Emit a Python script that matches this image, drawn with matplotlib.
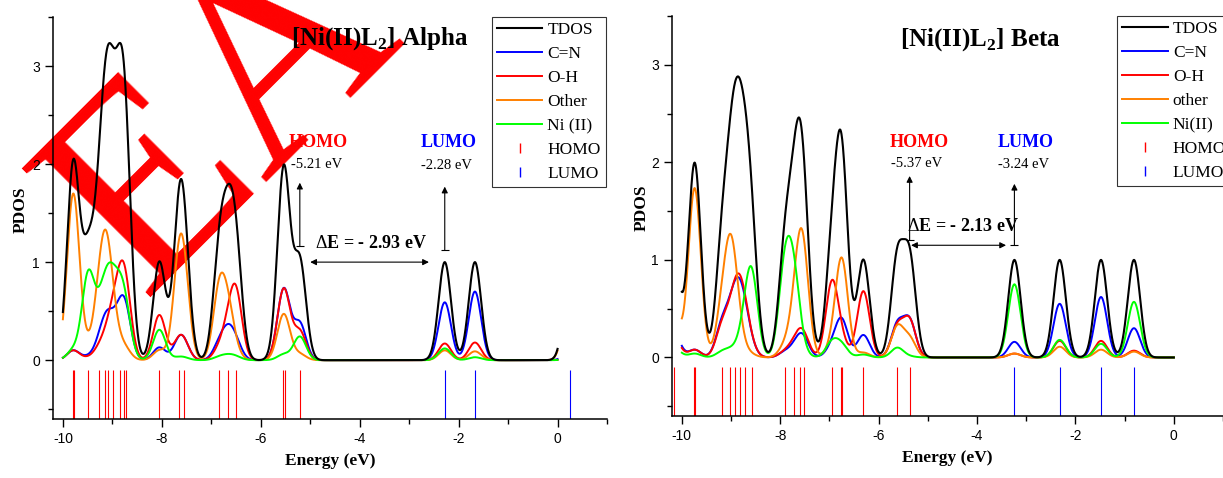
import numpy as np
import matplotlib
matplotlib.use('Agg')
import matplotlib.pyplot as plt
from matplotlib.lines import Line2D
from matplotlib.ticker import MultipleLocator

plt.rcParams['mathtext.fontset'] = 'custom'
plt.rcParams['mathtext.rm'] = 'Liberation Serif'
plt.rcParams['mathtext.bf'] = 'Liberation Serif:bold'
plt.rcParams['axes.unicode_minus'] = False

SERIF = 'Liberation Serif'
SANS = 'Liberation Sans'
SIGMA = 0.125   # gaussian broadening (eV)

# ---- alpha spin: orbital energies (eV) and fragment contributions per orbital
alpha_occ = [-9.80, -9.78, -9.49, -9.26, -9.14, -9.08, -8.98, -8.85, -8.77, -8.72,
             -8.05, -7.66, -7.56, -6.84, -6.66, -6.50, -5.56, -5.51, -5.21]
alpha_virt = [-2.28, -1.67, 0.26]
alpha_cn = [.05, .05, .03, .12, .18, .18, .12, .20, .22, .25,
            .13, .14, .14, .15, .25, .15, .37, .37, .37, .59, .70, .10]
alpha_oh = [.05, .05, .02, .10, .05, .10, .30, .30, .35, .35,
            .46, .14, .14, .10, .25, .65, .37, .37, .29, .17, .18, .03]
alpha_other = [.85, .85, .10, .50, .57, .42, .15, .05, .05, .05,
               .10, .70, .70, .68, .45, .05, .24, .24, .06, .10, .09, .85]
alpha_ni = [.05, .05, .85, .30, .25, .33, .35, .30, .25, .20,
            .31, .02, .02, .03, .04, .03, .03, .03, .24, .12, .03, .02]

# ---- beta spin
beta_occ = [-10.16, -9.75, -9.73, -9.19, -9.02, -8.92, -8.82, -8.71, -8.58,
            -7.91, -7.73, -7.60, -7.52, -6.95, -6.76, -6.74, -6.31, -5.62, -5.37]
beta_virt = [-3.24, -2.32, -1.48, -0.81]
beta_cn = [.25, .04, .04, .30, .20, .30, .35, .25, .05,
           .05, .05, .12, .12, .10, .20, .18, .23, .33, .37, .16, .55, .62, .30]
beta_oh = [.20, .04, .04, .28, .18, .30, .40, .25, .05,
           .05, .08, .13, .15, .75, .10, .05, .68, .31, .37, .04, .17, .17, .07]
beta_other = [.45, .87, .87, .40, .84, .35, .05, .03, .02,
              .10, .20, .70, .60, .10, .50, .50, .05, .31, .19, .04, .11, .08, .06]
beta_ni = [.10, .02, .02, .05, .05, .02, .05, .20, .80,
           .85, .75, .05, .02, .15, .07, .05, .03, .10, .01, .75, .18, .14, .57]

energy = np.linspace(-10, 0, 2001)


def broaden(levels, weights):
    levels = np.asarray(levels)[:, None]
    weights = np.asarray(weights)[:, None]
    return (weights * np.exp(-(energy[None, :] - levels) ** 2 / (2 * SIGMA ** 2))).sum(axis=0)


def panel(ax, occ, virt, cn, oh, other, ni, title, labels, homo, lumo, gap,
          txt, leg_x, other_name, ni_name, ylab_x):
    levels = occ + virt
    ax.patch.set_alpha(0)
    ax.plot(energy, broaden(levels, cn), color='#0000FF', lw=1.4)
    ax.plot(energy, broaden(levels, oh), color='#FF0000', lw=1.4)
    ax.plot(energy, broaden(levels, other), color='#FF8000', lw=1.4)
    ax.plot(energy, broaden(levels, ni), color='#00FF00', lw=1.4)
    ax.plot(energy, broaden(levels, np.ones(len(levels))), color='black', lw=1.5)
    ax.vlines(occ, -0.6, -0.1, color='red', lw=0.8)
    ax.vlines(virt, -0.6, -0.1, color='blue', lw=0.8)

    ax.set_xlim(-10.2, 1.0)
    ax.set_ylim(-0.6, 3.5)
    ax.xaxis.set_major_locator(MultipleLocator(2))
    ax.xaxis.set_minor_locator(MultipleLocator(1))
    ax.yaxis.set_minor_locator(MultipleLocator(0.5))
    ax.set_yticks([0, 1, 2, 3])
    ax.tick_params(which='major', direction='out', length=6, width=1, labelsize=10)
    ax.tick_params(which='minor', direction='out', length=3.5, width=1)
    for lab in ax.get_xticklabels() + ax.get_yticklabels():
        lab.set_fontfamily(SANS)
    for s in ['top', 'right']:
        ax.spines[s].set_visible(False)
    for s in ['left', 'bottom']:
        ax.spines[s].set_linewidth(1.1)

    ax.set_xlabel('Energy (eV)', fontsize=12.5, fontweight='bold', family=SERIF)
    ax.set_ylabel('PDOS', fontsize=12.5, fontweight='bold', family=SERIF)
    ax.xaxis.set_label_coords(0.5, -0.085)
    ax.yaxis.set_label_coords(ylab_x, 0.52)

    ax.text(txt['title'][0], txt['title'][1], title, transform=ax.transAxes, ha='center',
            va='baseline', fontsize=18, fontweight='bold', family=SERIF)

    # HOMO / LUMO labels and arrows
    ax.text(txt['homo'][0], txt['homo'][1], 'HOMO', color='red', ha='center', va='baseline',
            fontsize=13, fontweight='bold', family=SERIF)
    ax.text(txt['homo'][0] - 0.04, txt['homo'][1] - 0.21, labels[0], ha='center',
            va='baseline', fontsize=10.5, family=SERIF)
    ax.text(txt['lumo'][0], txt['lumo'][1], 'LUMO', color='blue', ha='center', va='baseline',
            fontsize=13, fontweight='bold', family=SERIF)
    ax.text(txt['lumo'][0] - 0.03, txt['lumo'][1] - 0.22, labels[1], ha='center',
            va='baseline', fontsize=10.5, family=SERIF)
    for x, (y0, y1) in [(homo, txt['harrow']), (lumo, txt['larrow'])]:
        ax.annotate('', xy=(x, y1), xytext=(x, y0),
                    arrowprops=dict(arrowstyle='-|>', color='black', lw=0.8,
                                    mutation_scale=9, shrinkA=0, shrinkB=0))
        ax.plot([x], [y0], marker='_', ms=6, mew=0.8, color='black')
    ax.annotate('', xy=txt['gap'][1], xytext=txt['gap'][0],
                arrowprops=dict(arrowstyle='<|-|>', color='black', lw=0.8,
                                mutation_scale=9, shrinkA=0, shrinkB=0))
    ax.text(txt['dE'][0], txt['dE'][1], gap, ha='center', va='baseline',
            fontsize=13, fontweight='bold', family=SERIF)

    handles = [Line2D([], [], color='black', lw=1.5),
               Line2D([], [], color='#0000FF', lw=1.4),
               Line2D([], [], color='#FF0000', lw=1.4),
               Line2D([], [], color='#FF8000', lw=1.4),
               Line2D([], [], color='#00FF00', lw=1.4),
               Line2D([], [], color='red', marker='|', ls='None', ms=7, mew=1.0),
               Line2D([], [], color='blue', marker='|', ls='None', ms=7, mew=1.0)]
    names = ['TDOS', 'C=N', 'O-H', other_name, ni_name, 'HOMO', 'LUMO']
    leg = ax.legend(handles, names, loc='upper left', bbox_to_anchor=(leg_x, 1.0),
                    borderaxespad=0, frameon=True, fancybox=False, edgecolor='black',
                    prop={'family': SERIF, 'size': 12.5}, handlelength=2.6,
                    handletextpad=0.3, labelspacing=0.45, borderpad=0.3)
    leg.get_frame().set_linewidth(0.8)


fig = plt.figure(figsize=(12.23, 4.78), dpi=100)

# red "EA" stamp behind the left panel
fig.text(0.185, 0.752, 'EA', rotation=45, color='red', fontsize=200, family=SERIF,
         ha='center', va='center', zorder=-1)

ax1 = fig.add_axes([53 / 1223, 59 / 478, 554 / 1223, 402 / 478])
ax2 = fig.add_axes([672 / 1223, 62 / 478, 551 / 1223, 400 / 478])

panel(ax1, alpha_occ, alpha_virt, alpha_cn, alpha_oh, alpha_other, alpha_ni,
      r'[Ni(II)L$_\mathbf{2}$] Alpha', ['-5.21 eV', '-2.28 eV'], -5.21, -2.28,
      r'$\Delta$E = - 2.93 eV',
      dict(title=(0.589, 0.931), homo=(-4.84, 2.17), lumo=(-2.21, 2.17),
           harrow=(1.16, 1.81), larrow=(1.12, 1.77),
           gap=((-5.0, 1.0), (-2.6, 1.0)), dE=(-3.76, 1.14)),
      0.792, 'Other', 'Ni (II)', -0.044)

panel(ax2, beta_occ, beta_virt, beta_cn, beta_oh, beta_other, beta_ni,
      r'[Ni(II)L$_\mathbf{2}$] Beta', ['-5.37 eV', '-3.24 eV'], -5.37, -3.24,
      r'$\Delta$E = - 2.13 eV',
      dict(title=(0.559, 0.926), homo=(-5.18, 2.16), lumo=(-3.02, 2.16),
           harrow=(1.20, 1.86), larrow=(1.15, 1.78),
           gap=((-5.34, 1.15), (-3.41, 1.15)), dE=(-4.28, 1.30)),
      0.808, 'other', 'Ni(II)', -0.040)

fig.savefig('out.png', dpi=100)
